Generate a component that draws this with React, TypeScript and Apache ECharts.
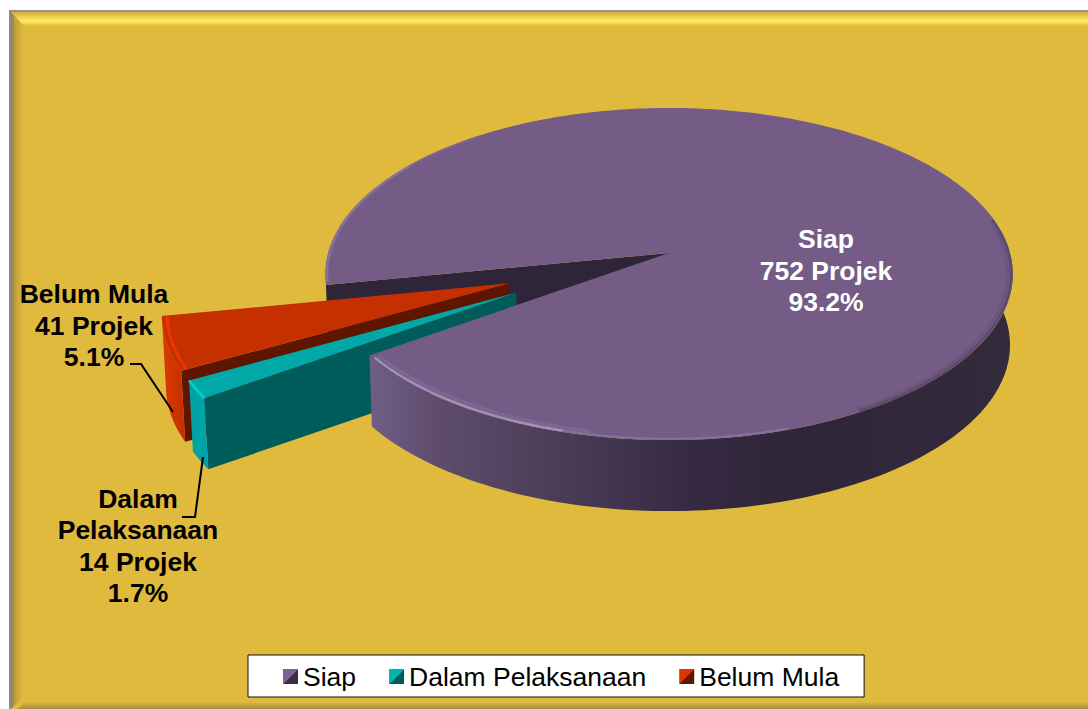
import React, { useEffect, useRef } from "react";
import * as echarts from "echarts";

const categories = ["Siap", "Dalam Pelaksanaan", "Belum Mula"];
const values = [752, 14, 41];
const labelLines = [["Siap"], ["Dalam", "Pelaksanaan"], ["Belum Mula"]];
const unit = "Projek";

const startAngle = 169.0;
const CX = 669, CY = 253, R = 341, S = 163.4, P = 0.1266, DEPTH = 71;
const FONT = "Liberation Sans, Arial, sans-serif";
const total = values.reduce((a, b) => a + b, 0);

type Geo = { ox: number; oy: number; k: number };
const geoms: Geo[] = [
  { ox: 0, oy: 0, k: 1 },
  { ox: -0.435, oy: 0.235, k: 0.97 },
  { ox: -0.456, oy: 0.181, k: 0.98 },
];

const spans: [number, number][] = [];
{
  let a = startAngle;
  values.forEach((v) => {
    const d = (v / total) * 360;
    spans.push([a, a + d]);
    a += d;
  });
}

const rad = (d: number) => (d * Math.PI) / 180;
function proj(g: Geo, deg: number, r: number, lower: boolean): number[] {
  const X = g.k * r * Math.cos(rad(deg)) + g.ox;
  const Y = g.k * r * Math.sin(rad(deg)) + g.oy;
  const w = 1 - P * Y;
  const sc = lower ? 0.992 : 1;
  return [CX + (R * X * sc) / w, CY + (S * Y) / w + (lower ? DEPTH : 0)];
}
function arc(g: Geo, a: number, b: number, r: number, lower: boolean) {
  const n = Math.max(2, Math.ceil(Math.abs(b - a) / 1.5));
  const pts: number[][] = [];
  for (let i = 0; i <= n; i++) pts.push(proj(g, a + ((b - a) * i) / n, r, lower));
  return pts;
}
const poly = (points: number[][], fill: any) => ({ type: "polygon", shape: { points }, style: { fill } });
const line = (points: number[][], stroke: string, lineWidth: number, opacity = 1) => ({
  type: "polyline",
  shape: { points },
  style: { stroke, lineWidth, opacity, fill: null },
});
const hgrad = (x0: number, x1: number, stops: [number, string][]) =>
  new echarts.graphic.LinearGradient(x0, 0, x1, 0, stops.map(([offset, color]) => ({ offset, color })), true);
const labelText = (i: number, x: number, y: number, fill: string) => ({
  type: "text",
  style: {
    text: [...labelLines[i], `${values[i]} ${unit}`, `${((values[i] / total) * 100).toFixed(1)}%`].join("\n"),
    x,
    y,
    fill,
    align: "center",
    verticalAlign: "middle",
    fontFamily: FONT,
    fontWeight: "bold",
    fontSize: 26.5,
    lineHeight: 31.2,
  },
});

function siapBackWall() {
  const g = geoms[0];
  const [a] = spans[0];
  const apex = proj(g, 0, 0, false);
  const apexL = proj(g, 0, 0, true);
  return { type: "group", children: [poly([apex, proj(g, a, 1, false), proj(g, a, 1, true), apexL], "#2f2539")] };
}
function siap() {
  const g = geoms[0];
  const [a, b] = spans[0];
  const apex = proj(g, 0, 0, false);
  const top = arc(g, a, b, 1, false);
  const wallFrom = 352;
  const upper = arc(g, wallFrom, b, 1, false);
  const lower = arc(g, wallFrom, b, 1, true);
  const wallFill = hgrad(372, 1012, [
    [0, "#705d86"],
    [0.1, "#5f4c6d"],
    [0.28, "#4c3d58"],
    [0.5, "#362a42"],
    [0.65, "#2f2539"],
    [1, "#332a3c"],
  ]);
  return {
    type: "group",
    children: [
      poly([...upper, ...lower.reverse()], wallFill),
      poly([apex, ...top], "#745c86"),
      // front-left rim highlight
      line(arc(g, 432, 466, 0.994, false), "#8f7aa6", 2, 0.7),
      line(arc(g, 466, b - 1, 0.994, false), "#a592bc", 2.4, 0.95),
      line(arc(g, 462, b - 1, 0.98, false), "#8b76a2", 3.5, 0.4),
      // back-left rim highlight
      line(arc(g, a + 1, 215, 0.995, false), "#947fae", 2.5, 0.6),
      line(arc(g, 215, 232, 0.995, false), "#8a749f", 2.5, 0.3),
      // right rim shading
      line(arc(g, -12, 60, 0.995, false), "#51405e", 2.5, 0.65),
      line(arc(g, -12, 60, 0.985, false), "#5e4b6d", 3, 0.35),
      labelText(0, 826, 270.5, "#ffffff"),
    ],
  };
}
function dalam() {
  const g = geoms[1];
  const [a, b] = spans[1];
  const apex = proj(g, 0, 0, false);
  const apexL = proj(g, 0, 0, true);
  return {
    type: "group",
    children: [
      poly([apex, proj(g, a, 1, false), proj(g, a, 1, true), apexL], "#005b5b"),
      poly([...arc(g, a, b, 1, false), ...arc(g, b, a, 1, true)], "#00a3a3"),
      poly([apex, ...arc(g, a, b, 1, false)], "#00a8a8"),
      line(arc(g, a, b, 1, false), "#00d2d2", 2.5),
      line([[182, 517], [195, 517], [203, 457]], "#000000", 2),
      labelText(1, 138, 546, "#000000"),
    ],
  };
}
function belum() {
  const g = geoms[2];
  const [a, b] = spans[2];
  const apex = proj(g, 0, 0, false);
  const apexL = proj(g, 0, 0, true);
  return {
    type: "group",
    children: [
      poly([apex, proj(g, a, 1, false), proj(g, a, 1, true), apexL], "#5e1600"),
      poly([...arc(g, a, b, 1, false), ...arc(g, b, a, 1, true)], hgrad(160, 195, [[0, "#e03a00"], [1, "#b52c00"]])),
      poly([apex, ...arc(g, a, b, 1, false)], "#c63000"),
      line(arc(g, a, b, 0.985, false), "#ea3a00", 3, 0.9),
      line([[130, 364], [141, 364], [173, 412]], "#000000", 2),
      labelText(2, 94, 325.5, "#000000"),
    ],
  };
}

const diag = (light: string, dark: string) =>
  new echarts.graphic.LinearGradient(0, 0, 1, 1, [
    { offset: 0, color: light },
    { offset: 0.5, color: light },
    { offset: 0.5, color: dark },
    { offset: 1, color: dark },
  ]);
const legendColors = [diag("#7a6390", "#3c2f48"), diag("#00b4b4", "#005b5b"), diag("#d83800", "#5e1600")];

const makeOption = (): any => {
  const renderers = [siap, dalam, belum];
  const zs = [6, 5, 4];
  return {
    animation: false,
    backgroundColor: "#ffffff",
    graphic: [
      { type: "rect", shape: { x: 9, y: 10, width: 1079, height: 699 }, style: { fill: "#E0BA3C" } },
      {
        type: "polygon",
        shape: { points: [[11, 12], [1088, 12], [1088, 26], [24, 26]] },
        style: {
          fill: new echarts.graphic.LinearGradient(0, 12, 0, 26, [
            { offset: 0, color: "#d6ad38" },
            { offset: 0.3, color: "#ecc84a" },
            { offset: 0.62, color: "#ffea60" },
            { offset: 0.78, color: "#f8de56" },
            { offset: 1, color: "#E0BA3C" },
          ], true),
        },
      },
      {
        type: "polygon",
        shape: { points: [[11, 12], [24, 26], [24, 696], [11, 709]] },
        style: {
          fill: new echarts.graphic.LinearGradient(11, 0, 24, 0, [
            { offset: 0, color: "#8f8048" },
            { offset: 0.35, color: "#c4a238" },
            { offset: 1, color: "#E0BA3C" },
          ], true),
        },
      },
      {
        type: "polygon",
        shape: { points: [[18, 709], [24, 702], [1088, 702], [1088, 709]] },
        style: {
          fill: new echarts.graphic.LinearGradient(0, 702, 0, 709, [
            { offset: 0, color: "#E0BA3C" },
            { offset: 1, color: "#a08c44" },
          ], true),
        },
      },
      { type: "rect", shape: { x: 9, y: 10, width: 1079, height: 2 }, style: { fill: "#929292" } },
      { type: "rect", shape: { x: 9, y: 10, width: 2, height: 699 }, style: { fill: "#8c8c8c" } },
    ],
    legend: {
      show: true,
      orient: "horizontal",
      left: 248,
      top: 655,
      padding: [8, 25, 7, 35],
      itemGap: 33,
      itemWidth: 15,
      itemHeight: 15,
      icon: "rect",
      selectedMode: false,
      backgroundColor: "#ffffff",
      borderColor: "#111111",
      borderWidth: 1,
      z: 10,
      textStyle: { color: "#000000", fontFamily: FONT, fontSize: 26.5 },
      data: categories.map((name, i) => ({ name, itemStyle: { color: legendColors[i], borderWidth: 0 } })),
    },
    series: [
      {
        type: "custom",
        name: "Siap (dinding)",
        coordinateSystem: "none",
        z: 3,
        clip: false,
        silent: true,
        data: [values[0]],
        renderItem: siapBackWall,
      },
      ...categories.map((name, i) => ({
        type: "custom",
        name,
        coordinateSystem: "none",
        z: zs[i],
        clip: false,
        silent: true,
        itemStyle: { color: legendColors[i] },
        data: [values[i]],
        renderItem: renderers[i],
      })),
    ],
  };
};

export default function App() {
  const ref = useRef<HTMLDivElement>(null);
  useEffect(() => {
    document.body.style.margin = "0";
    document.body.style.overflow = "hidden";
    const chart = echarts.init(ref.current!, undefined, { renderer: "svg" });
    chart.setOption(makeOption());
    return () => chart.dispose();
  }, []);
  return <div ref={ref} style={{ position: "absolute", left: 0, top: 0, width: 1088, height: 709 }} />;
}
